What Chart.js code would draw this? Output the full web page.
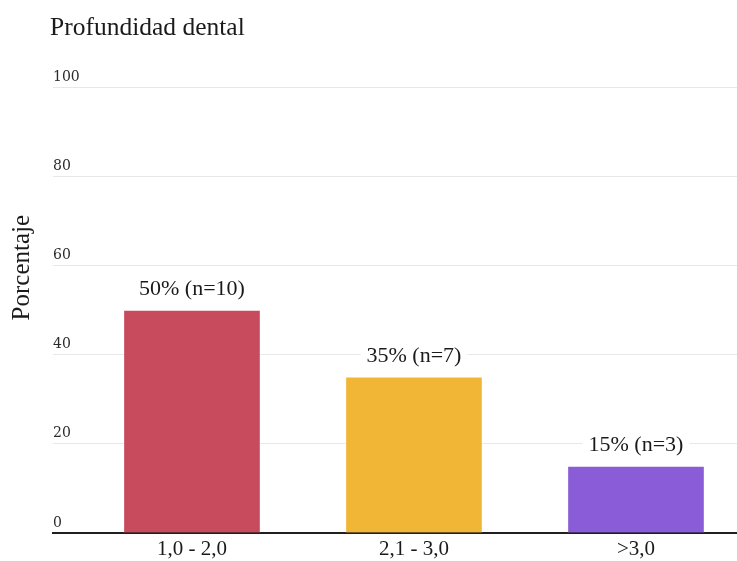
<!DOCTYPE html>
<html>
<head>
<meta charset="utf-8">
<script src="https://cdn.jsdelivr.net/npm/chart.js@4"></script>
<style>
  html, body { margin: 0; padding: 0; background: #ffffff; }
  #wrap { width: 737px; height: 561px; position: relative; }
</style>
</head>
<body>
<div id="wrap"><canvas id="chart"></canvas></div>
<script>
// Depth ranges and their share of cases
const categories = ['1,0 - 2,0', '2,1 - 3,0', '>3,0'];
const percentages = [50, 35, 15];
const counts = [10, 7, 3];
const barColors = ['#C84A5D', '#F2B636', '#8B5CD7'];
const yTicks = [0, 20, 40, 60, 80, 100];
const chartTitle = 'Profundidad dental';
const yTitle = 'Porcentaje';

const SERIF = '"Liberation Serif", "Times New Roman", serif';
const TICK_SERIF = '"DejaVu Serif", serif';

// Chart title and axis title, placed relative to the plot area
const titlesPlugin = {
  id: 'titles',
  afterDraw(chart) {
    const ctx = chart.ctx;
    const area = chart.chartArea;
    ctx.save();
    ctx.fillStyle = '#1a1a1a';
    ctx.textBaseline = 'middle';

    ctx.font = '25.5px ' + SERIF;
    ctx.textAlign = 'left';
    ctx.fillText(chartTitle, area.left - 3, 28);

    ctx.font = '25px ' + SERIF;
    ctx.textAlign = 'center';
    ctx.translate(area.left - 31, area.top + (area.bottom - area.top) * 0.405);
    ctx.rotate(-Math.PI / 2);
    ctx.fillText(yTitle, 0, 0);
    ctx.restore();
  }
};

// Value labels above each bar, on a white backing
const barLabelPlugin = {
  id: 'barLabels',
  afterDatasetsDraw(chart) {
    const ctx = chart.ctx;
    const meta = chart.getDatasetMeta(0);
    ctx.save();
    ctx.font = '22px ' + SERIF;
    ctx.textAlign = 'center';
    ctx.textBaseline = 'middle';
    meta.data.forEach((bar, i) => {
      const text = percentages[i] + '% (n=' + counts[i] + ')';
      const w = ctx.measureText(text).width;
      const cy = bar.y - 21;
      ctx.fillStyle = '#ffffff';
      ctx.fillRect(bar.x - w / 2 - 6, cy - 12, w + 12, 24);
      ctx.fillStyle = '#1a1a1a';
      ctx.fillText(text, bar.x, cy);
    });
    ctx.restore();
  }
};

new Chart(document.getElementById('chart'), {
  type: 'bar',
  data: {
    datasets: [{
      data: percentages.map((v, i) => ({ x: i, y: v })),
      backgroundColor: barColors,
      borderColor: 'rgba(255,255,255,0.3)',
      borderWidth: 1,
      borderSkipped: 'bottom',
      barThickness: 137
    }]
  },
  options: {
    responsive: true,
    maintainAspectRatio: false,
    animation: false,
    layout: { padding: { top: 87, left: 53, right: 0, bottom: 0 } },
    plugins: {
      legend: { display: false },
      tooltip: { enabled: false }
    },
    scales: {
      x: {
        type: 'linear',
        offset: false,
        min: -0.626,
        max: 2.455,
        afterBuildTicks(scale) {
          scale.ticks = categories.map((_, i) => ({ value: i }));
        },
        afterFit(scale) {
          scale.height = 28;
        },
        grid: { display: false, drawTicks: false },
        border: { display: true, color: '#1f1f1f', width: 2 },
        ticks: {
          padding: 4,
          color: '#1a1a1a',
          font: { family: SERIF, size: 21 },
          callback: (v) => categories[v] ?? ''
        }
      },
      y: {
        min: 0,
        max: 100,
        afterBuildTicks(scale) {
          scale.ticks = yTicks.map(v => ({ value: v }));
        },
        grid: { color: '#e8e8e8', lineWidth: 1, drawTicks: false },
        border: { display: false },
        ticks: {
          mirror: true,
          padding: 0,
          labelOffset: -10,
          color: '#2a2a2a',
          font: { family: TICK_SERIF, size: 14 }
        }
      }
    }
  },
  plugins: [titlesPlugin, barLabelPlugin]
});
</script>
</body>
</html>
